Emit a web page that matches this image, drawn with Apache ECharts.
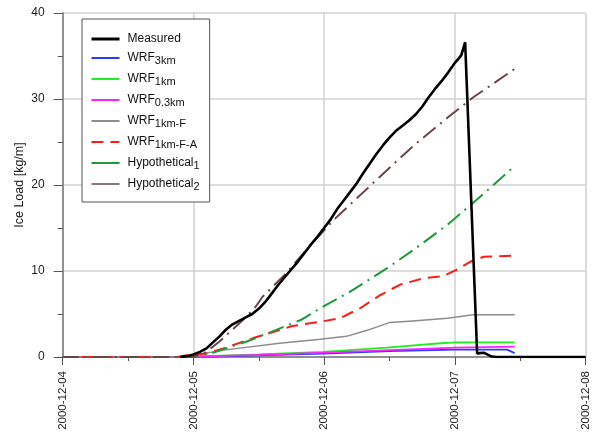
<!DOCTYPE html>
<html>
<head>
<meta charset="utf-8">
<script src="https://cdn.jsdelivr.net/npm/echarts@6/dist/echarts.min.js"></script>
<style>html,body{margin:0;padding:0;background:#fff}#c{width:595px;height:442px}</style>
</head>
<body>
<div id="c"></div>
<script>
// x values are hours after 2000-12-04 00:00
const dateLabels = ['2000-12-04', '2000-12-05', '2000-12-06', '2000-12-07', '2000-12-08'];
const yTicks = [0, 10, 20, 30, 40];
const seriesNames = ['Measured', 'WRF3km', 'WRF1km', 'WRF0.3km', 'WRF1km-F', 'WRF1km-F-A', 'Hypothetical1', 'Hypothetical2'];

const measured = [[21.6,0],[22.8,0.1],[24,0.3],[25.2,0.6],[26.4,1.0],[27.6,1.7],[28.8,2.4],[30,3.2],[31.2,3.8],[32.4,4.2],[33.6,4.6],[34.8,5.0],[36,5.6],[37.2,6.4],[38.4,7.4],[39.6,8.4],[40.8,9.3],[42,10.2],[43.2,11.1],[44.4,12.1],[45.6,13.1],[46.8,14.0],[48,15.0],[49.2,16.0],[50.4,17.2],[51.6,18.2],[52.8,19.2],[54,20.2],[55.2,21.4],[56.4,22.5],[57.6,23.6],[58.8,24.6],[60,25.5],[61.2,26.3],[62.4,26.9],[63.6,27.5],[64.8,28.2],[66,29.1],[67.2,30.2],[68.4,31.2],[69.6,32.1],[70.8,33.1],[72,34.2],[72.7,34.7],[73.2,35.1],[73.9,36.6],[76.1,0.4],[76.6,0.45],[77.3,0.5],[78.8,0.05],[79.7,0],[96,0]];
const wrf3km = [[0,0],[24,0],[36,0.2],[48,0.4],[60,0.7],[72,0.85],[81.6,0.85],[83,0.45]];
const wrf1km = [[0,0],[24,0.05],[36,0.3],[47.8,0.6],[59.5,1.1],[69.4,1.6],[72.2,1.7],[83,1.7]];
const wrf03km = [[0,0],[24,0.05],[36,0.25],[48,0.5],[60,0.8],[72,1.1],[83,1.2]];
const wrf1kmF = [[0,0],[22,0],[24,0.2],[29.5,0.8],[39.8,1.6],[47.3,2.05],[52.1,2.4],[55.9,3.1],[60,4.0],[64.3,4.2],[70.6,4.5],[75.4,4.9],[83,4.9]];
const wrf1kmFA = [[0,0],[21,0],[22.8,0.2],[26.4,0.4],[29.5,1.0],[35,2.2],[42.2,3.6],[47.3,4.1],[50.9,4.5],[54.7,5.7],[58.3,7.2],[61.9,8.4],[66.2,9.15],[69.8,9.4],[72.2,10.1],[74.9,11.1],[77.3,11.65],[83,11.8]];
const hypo1 = [[0,0],[24,0],[27.6,0.5],[33.8,1.8],[38.2,2.9],[43.7,4.3],[47.8,5.85],[52.8,7.6],[59.5,10.3],[64.3,12.4],[70.6,15.35],[76.6,18.6],[83,22.2]];
const hypo2 = [[0,0],[24,0],[26.4,0.6],[28.8,1.8],[31.2,3.2],[33.6,4.6],[35.5,5.9],[36.7,7.0],[41,9.7],[43.7,11.7],[46.1,13.4],[49.7,15.9],[58.3,21.0],[64.3,24.5],[70.8,27.9],[75.4,30.2],[83,33.5]];

const legendRich = {
  'Measured': '{b|Measured}',
  'WRF3km': '{b|WRF}{s|3km}',
  'WRF1km': '{b|WRF}{s|1km}',
  'WRF0.3km': '{b|WRF}{s|0.3km}',
  'WRF1km-F': '{b|WRF}{s|1km-F}',
  'WRF1km-F-A': '{b|WRF}{s|1km-F-A}',
  'Hypothetical1': '{b|Hypothetical}{s|1}',
  'Hypothetical2': '{b|Hypothetical}{s|2}'
};

const FONT = 'Liberation Sans, Arial, sans-serif';
const chart = echarts.init(document.getElementById('c'), null, {renderer: 'canvas'});

function line(name, data, color, width, type, z) {
  return {
    name: name, type: 'line', data: data, symbol: 'none', showSymbol: false, smooth: false,
    lineStyle: {color: color, width: width, type: type}, itemStyle: {color: color},
    z: z || 2, animation: false
  };
}

const hiddenSymbol = {opacity: 0, color: 'rgba(0,0,0,0)', borderWidth: 0, borderColor: 'rgba(0,0,0,0)'};

const option = {
  animation: false,
  backgroundColor: '#fff',
  textStyle: {fontFamily: FONT},
  grid: {left: 62.7, right: 9.5, top: 13, bottom: 85, containLabel: false},
  xAxis: {
    type: 'value', min: 0, max: 96, interval: 24,
    axisLine: {show: true, lineStyle: {color: '#777', width: 1.5}},
    axisTick: {show: true, length: 8, lineStyle: {color: '#555', width: 1}},
    minorTick: {show: true, splitNumber: 2, length: 4, lineStyle: {color: '#555', width: 1}},
    splitLine: {show: true, lineStyle: {color: '#d2d2d2', width: 1.5}},
    axisLabel: {
      rotate: 90, margin: 14, fontSize: 11.5, color: '#222', fontFamily: FONT,
      formatter: v => dateLabels[Math.round(v / 24)]
    }
  },
  yAxis: {
    type: 'value', min: 0, max: 40, interval: 10,
    name: 'Ice Load [kg/m]', nameLocation: 'middle', nameGap: 37, nameMoveOverlap: false,
    nameTextStyle: {fontSize: 12.5, color: '#222', fontFamily: FONT},
    axisLine: {show: true, lineStyle: {color: '#777', width: 1.5}},
    axisTick: {show: true, length: 9, lineStyle: {color: '#555', width: 1}},
    minorTick: {show: true, splitNumber: 2, length: 5, lineStyle: {color: '#555', width: 1}},
    splitLine: {show: true, lineStyle: {color: '#d2d2d2', width: 1.5}},
    axisLabel: {margin: 18, fontSize: 12, color: '#222', fontFamily: FONT,
      formatter: v => (yTicks.indexOf(v) >= 0 ? String(v) : '')}
  },
  legend: {
    show: true, orient: 'vertical', left: 82, top: 19,
    padding: [14, 10, 10, 8],
    borderColor: '#555', borderWidth: 1, backgroundColor: '#fff',
    itemWidth: 28, itemHeight: 14, itemGap: 7,
    selectedMode: false,
    itemStyle: hiddenSymbol,
    formatter: name => legendRich[name],
    textStyle: {
      color: '#111', fontFamily: FONT, fontSize: 12,
      rich: {
        b: {fontSize: 12, lineHeight: 16, padding: [0, 0, 0, 3], color: '#111', fontFamily: FONT},
        s: {fontSize: 11, lineHeight: 11, verticalAlign: 'bottom', color: '#111', fontFamily: FONT}
      }
    },
    data: [
      {name: seriesNames[0], lineStyle: {width: 3}, itemStyle: hiddenSymbol},
      {name: seriesNames[1], lineStyle: {width: 2}, itemStyle: hiddenSymbol},
      {name: seriesNames[2], lineStyle: {width: 2}, itemStyle: hiddenSymbol},
      {name: seriesNames[3], lineStyle: {width: 2}, itemStyle: hiddenSymbol},
      {name: seriesNames[4], lineStyle: {width: 2}, itemStyle: hiddenSymbol},
      {name: seriesNames[5], lineStyle: {width: 2}, itemStyle: hiddenSymbol},
      {name: seriesNames[6], lineStyle: {width: 2, type: 'solid'}, itemStyle: hiddenSymbol},
      {name: seriesNames[7], lineStyle: {width: 1.5, type: 'solid'}, itemStyle: hiddenSymbol}
    ]
  },
  series: [
    line(seriesNames[1], wrf3km, '#2a3cff', 1.8, 'solid', 2),
    line(seriesNames[2], wrf1km, '#22ee22', 1.8, 'solid', 2),
    line(seriesNames[3], wrf03km, '#ff22ff', 1.8, 'solid', 2),
    line(seriesNames[4], wrf1kmF, '#8c8c8c', 1.5, 'solid', 2),
    line(seriesNames[5], wrf1kmFA, '#ff1a1a', 2, [12, 7], 3),
    line(seriesNames[6], hypo1, '#1c9a3c', 2, [16, 6, 2, 6], 3),
    line(seriesNames[7], hypo2, '#6b4545', 2, [16, 6, 2, 6], 3),
    line(seriesNames[0], measured, '#000000', 2.6, 'solid', 4)
  ]
};
chart.setOption(option);
</script>
</body>
</html>
